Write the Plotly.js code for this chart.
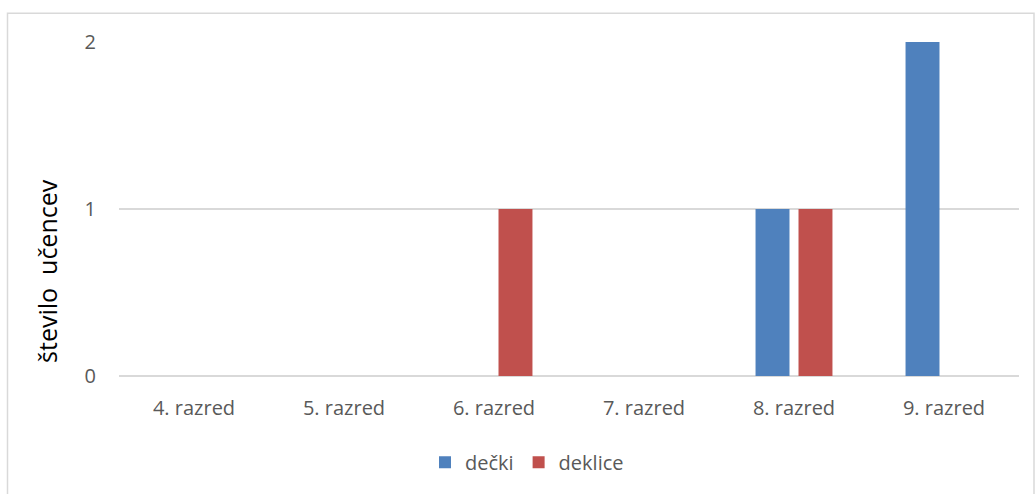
<!DOCTYPE html>
<html>
<head>
<meta charset="utf-8">
<script src="https://cdn.plot.ly/plotly-3.0.1.min.js"></script>
<style>html,body{margin:0;padding:0;background:#fff;}#chart{width:1035px;height:494px;}</style>
</head>
<body>
<div id="chart"></div>
<script>
const categories = ["4. razred", "5. razred", "6. razred", "7. razred", "8. razred", "9. razred"];
const decki = [0, 0, 0, 0, 1, 2];
const deklice = [0, 0, 1, 0, 1, 0];
const yTicks = [0, 1, 2];
const seriesNames = ["dečki", "deklice"];
const yTitle = "število  učencev";

const W = 1035, H = 494;
const m = {l: 119, r: 16, t: 42, b: 115};
const pw = W - m.l - m.r, ph = H - m.t - m.b;
const px = v => (v - m.l) / pw;
const py = v => (H - m.b - v) / ph;

const tickFont = {family: "Open Sans, Noto Sans, sans-serif", size: 20, color: "#595959"};

const traces = [
  {type: "bar", name: seriesNames[0], x: categories, y: decki,
   marker: {color: "#4F81BD", line: {width: 0}}},
  {type: "bar", name: seriesNames[1], x: categories, y: deklice,
   marker: {color: "#C0504D", line: {width: 0}}}
];

const layout = {
  width: W, height: H,
  margin: m,
  paper_bgcolor: "#fff", plot_bgcolor: "#fff",
  barmode: "group", bargap: 0.427, bargroupgap: 0.21,
  showlegend: true,
  legend: {orientation: "h", x: px(527), xanchor: "center", y: py(466), yanchor: "middle",
           font: tickFont, itemwidth: 30, traceorder: "normal"},
  xaxis: {type: "category", tickfont: tickFont, showgrid: false, showline: false,
          zeroline: false, ticks: "", ticklabelstandoff: 18, fixedrange: true},
  yaxis: {range: [0, 2], tickvals: yTicks, ticktext: yTicks.map(String), tickfont: tickFont,
          showgrid: true, gridcolor: "#D9D9D9", gridwidth: 1.5, zeroline: true, zerolinecolor: "#D9D9D9",
          zerolinewidth: 1.5, showline: false, ticks: "", ticklabelstandoff: 22, fixedrange: true},
  annotations: [{text: yTitle, xref: "paper", yref: "paper", x: px(47), y: py(273),
                 xanchor: "center", yanchor: "middle", textangle: -90, showarrow: false,
                 font: {family: "Open Sans, Noto Sans, sans-serif", size: 25, color: "#000"}}],
  shapes: [{type: "rect", xref: "paper", yref: "paper", x0: px(7.5), x1: px(1034), y0: py(500), y1: py(13),
            line: {color: "#D9D9D9", width: 1.5}, fillcolor: "rgba(0,0,0,0)", layer: "below"}]
};

Plotly.newPlot("chart", traces, layout, {displayModeBar: false, staticPlot: true});
</script>
</body>
</html>
